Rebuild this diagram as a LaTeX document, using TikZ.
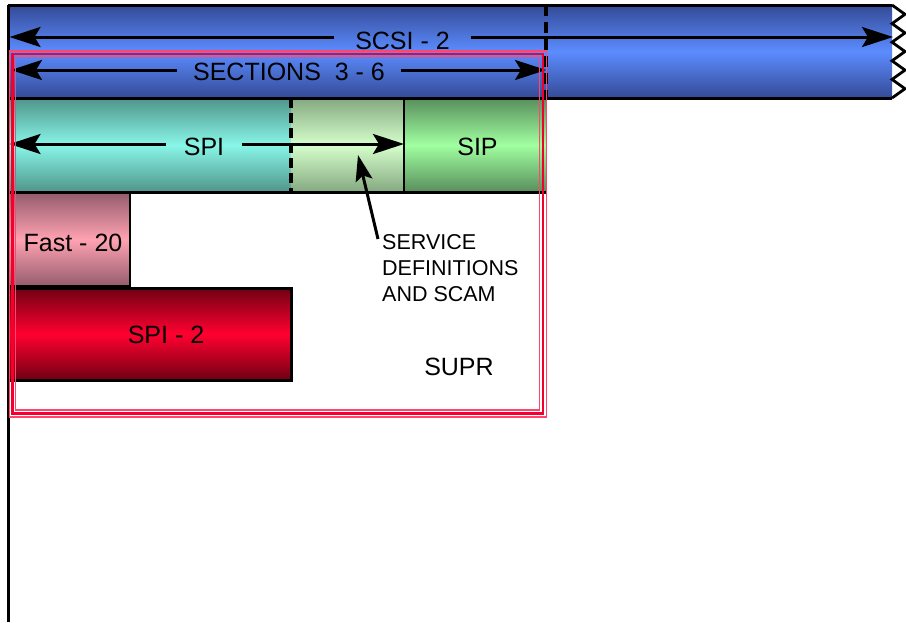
\documentclass[tikz,border=0pt]{standalone}
\usepackage{fontspec}
\setmainfont{Liberation Sans}
\usetikzlibrary{arrows.meta}
\definecolor{blueE}{RGB}{52,74,150}
\definecolor{blueM}{RGB}{92,140,255}
\definecolor{tealE}{RGB}{80,148,138}
\definecolor{tealM}{RGB}{136,246,232}
\definecolor{paleE}{RGB}{132,168,128}
\definecolor{paleM}{RGB}{214,255,204}
\definecolor{sipE}{RGB}{88,142,92}
\definecolor{sipM}{RGB}{160,255,160}
\definecolor{pinkE}{RGB}{148,92,108}
\definecolor{pinkM}{RGB}{255,162,178}
\definecolor{redE}{RGB}{112,0,18}
\definecolor{redM}{RGB}{255,0,48}
\definecolor{suprRed}{RGB}{245,0,45}
\definecolor{suprPink}{RGB}{255,70,110}
\begin{document}
\begin{tikzpicture}[x=1pt,y=-1pt,
  lbl/.style={font=\fontsize{25}{30}\selectfont, inner ysep=0pt, anchor=base},
  small/.style={font=\fontsize{21.5}{26}\selectfont, inner sep=0pt, align=left, anchor=north west},
  border/.style={line width=3pt},
  arr/.style={line width=3pt, -{Stealth[length=31pt,width=20pt,inset=6pt]}},
  arrs/.style={line width=3pt, -{Stealth[length=26pt,width=17pt,inset=5pt]}},
  dsh/.style={line width=3.2pt, dash pattern=on 11pt off 6pt},
  grad/.style 2 args={top color=#1, bottom color=#1, middle color=#2},
]
\useasboundingbox (0,0) rectangle (906,622);

% bars
\fill[grad={blueE}{blueM}] (8,5) rectangle (892,98);
\fill[grad={tealE}{tealM}] (8,98) rectangle (291,192);
\fill[grad={paleE}{paleM}] (291,98) rectangle (404,192);
\fill[grad={sipE}{sipM}] (404,98) rectangle (546,192);
\filldraw[grad={pinkE}{pinkM}, draw=black, line width=2.8pt] (8,193) rectangle (130,286);
\filldraw[grad={redE}{redM}, draw=black, line width=3pt] (8,288) rectangle (291,380);

% borders
\draw[border] (8,5) -- (892,5);
\draw[border] (8,98) -- (892,98);
\draw[border] (8,192.5) -- (546,192.5);
\draw[line width=2.8pt, line join=miter]
  (892,5) -- (905,14.3) -- (892,23.6) -- (905,32.9) -- (892,42.2) -- (905,51.5)
  -- (892,60.8) -- (905,70.1) -- (892,79.4) -- (905,88.7) -- (892,98);
\draw[dsh] (546,5) -- (546,98);
\draw[line width=3.2pt, dash pattern=on 10pt off 5pt] (291,98) -- (291,192);
\draw[line width=2.5pt] (404,98) -- (404,194);
\draw[border] (8,5) -- (8,622);

% labels
\node[lbl, inner xsep=21pt] (scsiT) at (402.5,49) {SCSI - 2};
\node[lbl, inner xsep=16pt] (secT) at (289,80) {SECTIONS\ \ 3 - 6};
\node[lbl, inner xsep=18pt] (spiT) at (204,155) {SPI};
\node[lbl] (sipT) at (477.5,155) {SIP};
\node[lbl] (fastT) at (73,251) {Fast - 20};
\node[lbl] (spi2T) at (166,343) {SPI - 2};
\node[lbl] (suprT) at (459,375) {SUPR};
\node[small] (servT) at (382,234.6) {SERVICE\\DEFINITIONS\\AND SCAM};

% arrow ends
\coordinate (scsiL) at (9.5,37);
\coordinate (scsiR) at (893,37);
\coordinate (secL) at (11,70);
\coordinate (secR) at (546,70);
\coordinate (spiL) at (9.5,144);
\coordinate (spiR) at (404,144);
\coordinate (servS) at (378,239);
\coordinate (servTip) at (358,155);

\draw[arr] (scsiT.west |- scsiL) -- (scsiL);
\draw[arr] (scsiT.east |- scsiR) -- (scsiR);
\draw[arr] (secT.west |- secL) -- (secL);
\draw[arr] (secT.east |- secR) -- (secR);
\draw[arr] (spiT.west |- spiL) -- (spiL);
\draw[arr] (spiT.east |- spiR) -- (spiR);
\draw[arrs] (servS) -- (servTip);

% SUPR triple frame
\draw[suprPink, line width=1.2pt] (9.5,51) rectangle (546.5,417);
\draw[suprRed, line width=2.8pt] (12.5,54) rectangle (543,413.5);
\draw[suprPink, line width=1.2pt] (15.5,57.5) rectangle (539.5,410);
\end{tikzpicture}
\end{document}
